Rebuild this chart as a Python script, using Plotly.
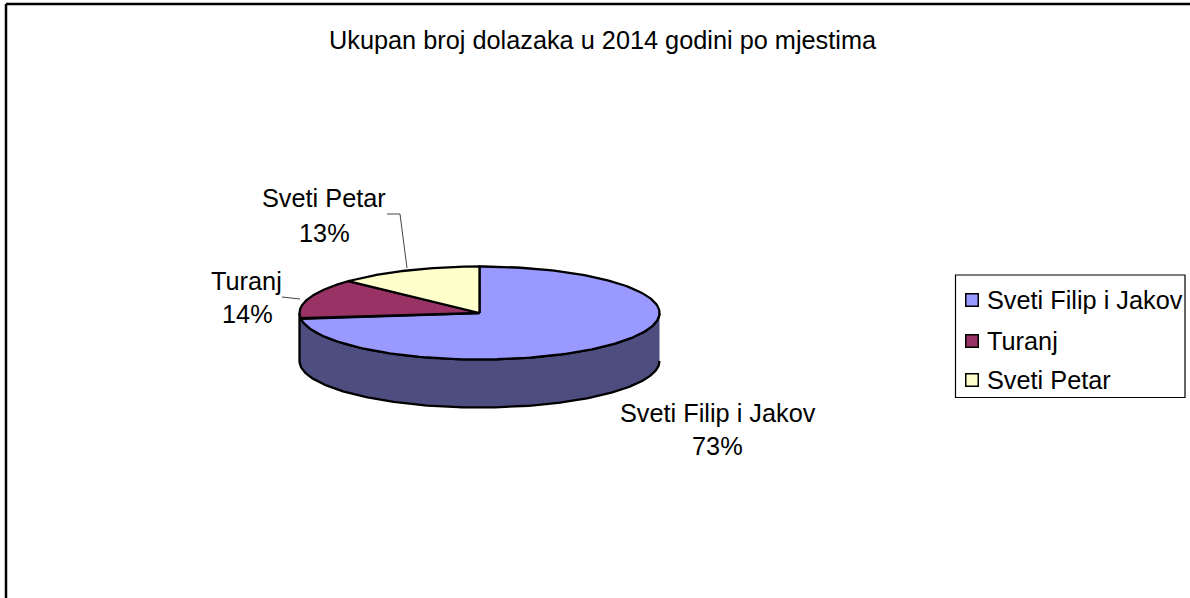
import numpy as np
import plotly.graph_objects as go

categories = ["Sveti Filip i Jakov", "Turanj", "Sveti Petar"]
shares = [73, 14, 13]
colors = ["#9999FF", "#993366", "#FFFFCC"]
title = "Ukupan broj dolazaka u 2014 godini po mjestima"

CX, CY, RX, RY, DEPTH = 479.5, 313, 180, 46.5, 48
FS = 25.3
FONT = "Liberation Sans, Arial, sans-serif"


def ell(t):
    return CX + RX * np.sin(t), CY - RY * np.cos(t)


fig = go.Figure()

# side wall (front half of the disc)
t = np.linspace(np.pi / 2, 3 * np.pi / 2, 200)
xe, ye = ell(t)
fig.add_trace(go.Scatter(
    x=np.r_[xe, xe[::-1]], y=np.r_[ye + DEPTH, ye[::-1]],
    mode="lines", fill="toself", fillcolor="#4D4D80",
    line=dict(color="black", width=2.3), showlegend=False, hoverinfo="skip"))

# top faces
total = sum(shares)
start = 0.0
for name, v, c in zip(categories, shares, colors):
    end = start + v / total * 2 * np.pi
    tt = np.linspace(start, end, 200)
    xw, yw = ell(tt)
    fig.add_trace(go.Scatter(
        x=np.r_[CX, xw, CX], y=np.r_[CY, yw, CY],
        mode="lines", fill="toself", fillcolor=c, name=name,
        line=dict(color="black", width=2.3), hoverinfo="skip", showlegend=False))
    start = end

# leader lines
for lx, ly in [([387, 400, 407], [214, 214, 268]), ([282, 300], [297, 299])]:
    fig.add_trace(go.Scatter(x=lx, y=ly, mode="lines", showlegend=False, hoverinfo="skip",
                             line=dict(color="#444444", width=1)))

# legend swatches
legend_rows = [300, 341, 380]
fig.add_trace(go.Scatter(
    x=[972, 972, 972], y=legend_rows, mode="markers", showlegend=False, hoverinfo="skip",
    marker=dict(symbol="square", size=12.5, color=colors, line=dict(color="black", width=1.5))))


def txt(x, y, s):
    return dict(x=x, y=y, text=s, showarrow=False, xanchor="center", yanchor="middle",
                font=dict(size=FS, color="black", family=FONT))


name_pos = [(718, 413), (246.5, 281), (324, 198)]
pct_pos = [(717, 446), (247, 314), (324, 233)]
anns = [txt(602.5, 40, title)]
for (nx, ny), (px, py), n, v in zip(name_pos, pct_pos, categories, shares):
    anns.append(txt(nx, ny, n))
    anns.append(txt(px, py, f"{v}%"))
for n, ry in zip(categories, legend_rows):
    anns.append(dict(x=985, y=ry, text=n, showarrow=False, xanchor="left", yanchor="middle",
                     font=dict(size=FS, color="black", family=FONT)))

fig.update_layout(
    width=1190, height=598, margin=dict(l=0, r=0, t=0, b=0), showlegend=False,
    paper_bgcolor="white", plot_bgcolor="white", annotations=anns,
    font=dict(family=FONT, size=FS, color="black"),
    xaxis=dict(range=[0, 1190], visible=False, fixedrange=True),
    yaxis=dict(range=[598, 0], visible=False, fixedrange=True),
    shapes=[
        dict(type="line", xref="x", yref="y", x0=6, x1=6, y0=4, y1=598, line=dict(color="black", width=2.5)),
        dict(type="line", xref="x", yref="y", x0=6, x1=1190, y0=4, y1=4, line=dict(color="black", width=2.5)),
        dict(type="rect", xref="x", yref="y", x0=955.5, x1=1185, y0=275, y1=397.5, layer="below",
             line=dict(color="black", width=1.2), fillcolor="white"),
    ],
)

fig.write_html("out.html", config=dict(displayModeBar=False),
               post_script="document.body.style.margin='0';document.body.style.overflow='hidden';")
